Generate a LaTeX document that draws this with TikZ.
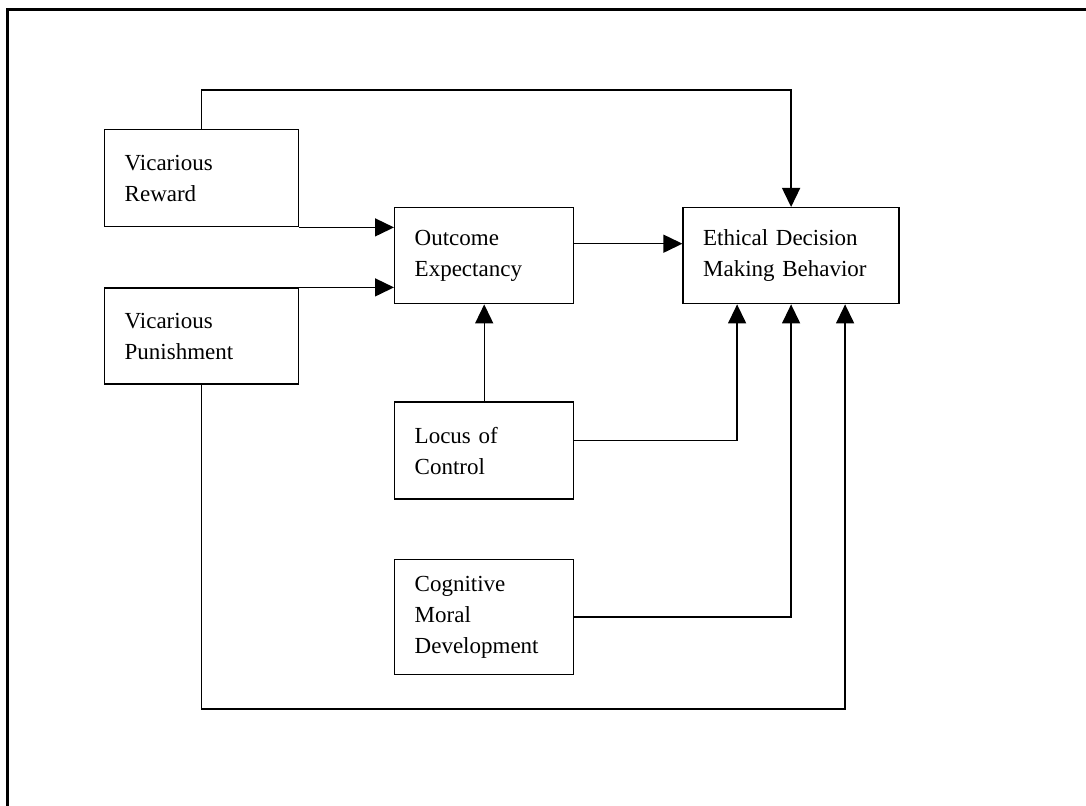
\documentclass[tikz,border=0pt]{standalone}
\usepackage{fontspec}
\setmainfont{Liberation Serif}
\usetikzlibrary{positioning, arrows.meta, calc}

\begin{document}
\begin{tikzpicture}[
    x=0.5pt, y=-0.5pt,
    block/.style={draw=black, line width=0.7pt, rectangle, align=left, inner xsep=10pt, text width=#1, font=\fontsize{11.5}{15.5}\selectfont},
    edge/.style={line width=0.7pt},
    arrow/.style={edge, -{Triangle[length=9.5pt, width=9pt]}},
    frame/.style={line width=1.5pt}
]
\useasboundingbox (0,0) rectangle (1086,806);

% Rahmen
\draw[frame] (7.5,806) |- (1086,9.5);

% Knoten
\node[block=77pt, minimum height=48.5pt, anchor=north west] (reward) at (104,129) {Vicarious\\Reward};
\node[block=77pt, minimum height=48pt, below=30pt of reward] (punish) {Vicarious\\Punishment};
\node[block=69.5pt, minimum height=48pt, anchor=north west] (outcome) at (394,207) {Outcome\\Expectancy};
\node[block=88pt, minimum height=48pt, right=54pt of outcome] (ethical) {Ethical Decision\\Making Behavior};
\node[block=69.5pt, minimum height=48.5pt, below=48.5pt of outcome] (locus) {Locus of\\Control};
\node[block=69.5pt, minimum height=57.5pt, below=29.5pt of locus] (cmd) {Cognitive\\Moral\\Development};
\coordinate (top) at (0,90);
\coordinate (bottom) at (0,709);

% Kanten zwischen Knoten
\draw[arrow] (reward.south east) -- (reward.south east -| outcome.west);
\draw[arrow] (punish.north east) -- (punish.north east -| outcome.west);
\draw[arrow] ([yshift=6pt]outcome.east) -- ([yshift=6pt]ethical.west);
\draw[arrow] (locus.north) -- (outcome.south);
\draw[arrow] (reward.north) -- (reward.north |- top) -| (ethical.north);
\draw[arrow] ([yshift=5pt]locus.east) -| ([xshift=-27pt]ethical.south);
\draw[arrow] (cmd.east) -| (ethical.south);
\draw[arrow] (punish.south) -- (punish.south |- bottom) -| ([xshift=27pt]ethical.south);

\end{tikzpicture}
\end{document}
